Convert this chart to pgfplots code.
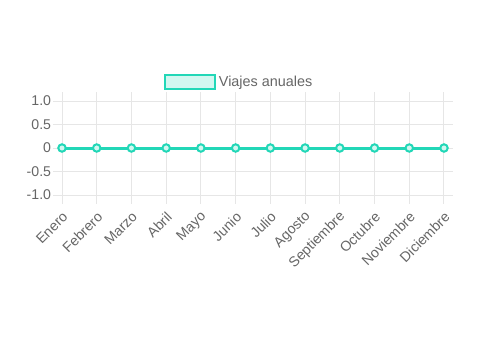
\documentclass[border=0pt]{standalone}
\usepackage{pgfplots}
\pgfplotsset{compat=1.18}
\usepackage{fontspec}
\setmainfont{Liberation Sans}
\definecolor{teal}{HTML}{22D7B7}
\definecolor{tealfill}{HTML}{D2F7F0}
\definecolor{gridc}{HTML}{E6E6E6}
\definecolor{txt}{HTML}{666666}
\begin{document}
\begin{tikzpicture}
\path (0pt,0pt) rectangle (360pt,255pt);
\begin{axis}[
  at={(46.5pt,108.75pt)}, anchor=south west,
  scale only axis, width=286.5pt, height=70.5pt,
  xmin=0, xmax=11, ymin=-1, ymax=1,
  xtick={0,...,11},
  xticklabels={Enero,Febrero,Marzo,Abril,Mayo,Junio,Julio,Agosto,Septiembre,Octubre,Noviembre,Diciembre},
  ytick={-1,-0.5,0,0.5,1},
  yticklabels={-1.0,-0.5,0,0.5,1.0},
  xticklabel style={rotate=45, anchor=east, font=\fontsize{10.6}{12}\selectfont, text=txt, inner sep=1pt, yshift=-7.5pt, xshift=-3pt},
  yticklabel style={font=\fontsize{10.6}{12}\selectfont, text=txt, inner sep=1.5pt},
  grid=major, major grid style={gridc, line width=0.75pt},
  axis line style={gridc, line width=0.75pt},
  tick style={gridc, line width=0.75pt},
  tick align=outside, major tick length=6.5pt,
  /pgf/number format/assume math mode=true,
  legend style={at={(axis description cs:0.465,1.202)}, anchor=center, draw=none, font=\fontsize{10.8}{12}\selectfont, text=txt, inner sep=0pt, legend cell align=left, /tikz/every even column/.append style={column sep=0pt}},
  legend image code/.code={\draw[fill=tealfill, draw=teal, line width=1.5pt] (0pt,-5.6pt) rectangle (37.5pt,5.6pt);},
  clip=false,
]
\addplot[teal, line width=2.25pt, mark=*, mark size=2.8pt, mark options={fill=tealfill, draw=teal, line width=1.5pt}]
coordinates {(0,0) (1,0) (2,0) (3,0) (4,0) (5,0) (6,0) (7,0) (8,0) (9,0) (10,0) (11,0)};
\addlegendentry{Viajes anuales}
\end{axis}
\end{tikzpicture}
\end{document}
